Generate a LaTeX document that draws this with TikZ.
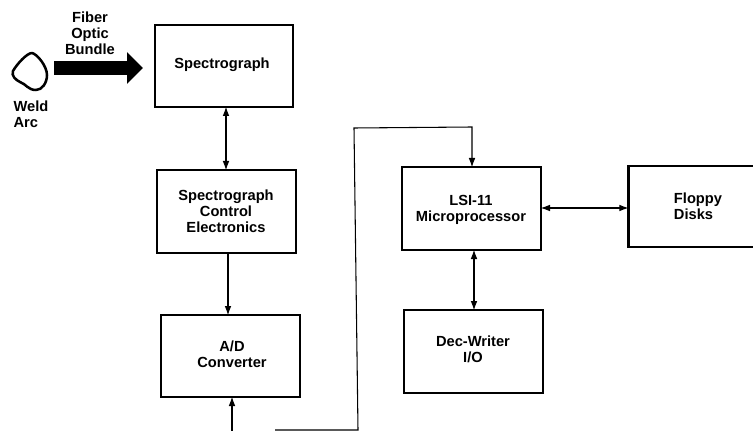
\documentclass[tikz,border=0pt]{standalone}
\usepackage{fontspec}
\setmainfont{Liberation Sans}
\usetikzlibrary{arrows.meta,calc}
\tikzset{
  blockbox/.style={draw=black,line width=1.9pt,fill=white,inner sep=0pt},
  lbl/.style={inner sep=0pt,align=center,font=\fontsize{11}{12}\selectfont\bfseries},
  flow/.style={line width=0.8pt,shorten >=-1.2pt,-{Latex[length=7pt,width=5pt]}},
  biflow/.style={line width=0.8pt,shorten >=-1.2pt,shorten <=-1.2pt,{Latex[length=7pt,width=5pt]}-{Latex[length=7pt,width=5pt]}}
}
\newcommand{\blockat}[5]{\node[blockbox,minimum width=#4*0.75pt,minimum height=#5*0.75pt] (#1) at (#2,#3) {};}
\begin{document}
\begin{tikzpicture}[x=0.75pt,y=-0.75pt]
\useasboundingbox (0,0) rectangle (753,431);
\blockat{spec}{224}{66}{138}{82}
\blockat{ctrl}{226.5}{211.5}{139}{83}
\blockat{adc}{230.5}{356}{139}{82}
\blockat{lsi}{471.5}{208.5}{139}{83}
\blockat{dec}{473.5}{351.5}{139}{83}
\node[blockbox,minimum width=130*0.75pt,minimum height=81*0.75pt,anchor=west] (fl) at (627,206.5) {};
\node[lbl] (tspec) at (222,65) {Spectrograph};
\node[lbl] (tctrl) at (226,211) {Spectrograph\\Control\\Electronics};
\node[lbl] (tadc) at (232,354) {A/D\\Converter};
\node[lbl] (tlsi) at (471,210) {LSI-11\\Microprocessor};
\node[lbl] (tdec) at (473,349) {Dec-Writer\\I/O};
\node[lbl,align=left] (tfl) at (698,206) {Floppy\\Disks};
\coordinate (fiberS) at (54,68);
\coordinate (fiberE) at (143,68);
\draw[line width=11.2pt,-{Triangle[length=12pt,width=23pt]}] (fiberS) -- (fiberE);
\draw[line width=1.9pt,line join=round] (13,71) .. controls (17,64) and (27,53) .. (32,53) .. controls (37,54) and (47,66) .. (47,75) .. controls (47,83) and (42,90) .. (36,90) .. controls (28,90) and (26,84) .. (20,82) .. controls (16,80) and (11,76) .. (13,71) -- cycle;
\node[lbl] (fib) at (90,33) {Fiber\\Optic\\Bundle};
\node[lbl,align=left] (weld) at (31,114) {Weld\\Arc};
\draw[biflow] (spec.south -| 226,0) -- (ctrl.north -| 226,0);
\draw[flow] (ctrl.south -| 228,0) -- (adc.north -| 228,0);
\coordinate (lr) at (0,208);
\draw[biflow] (lsi.east |- lr) -- (fl.west |- lr);
\draw[biflow] (lsi.south -| 474,0) -- (dec.north -| 474,0);
\coordinate (b1) at (232,431);
\coordinate (b0) at (275,430);
\coordinate (b2) at (358,430);
\coordinate (b3) at (354,128);
\coordinate (b4) at (472,127);
\draw[line width=0.8pt,shorten >=-1.2pt,-{Latex[length=7pt,width=5pt]}] (b1) -- (adc.south -| b1);
\draw[flow] (b0) -- (b2) -- (b3) -- (b4) -- (lsi.north -| b4);
\end{tikzpicture}
\end{document}
